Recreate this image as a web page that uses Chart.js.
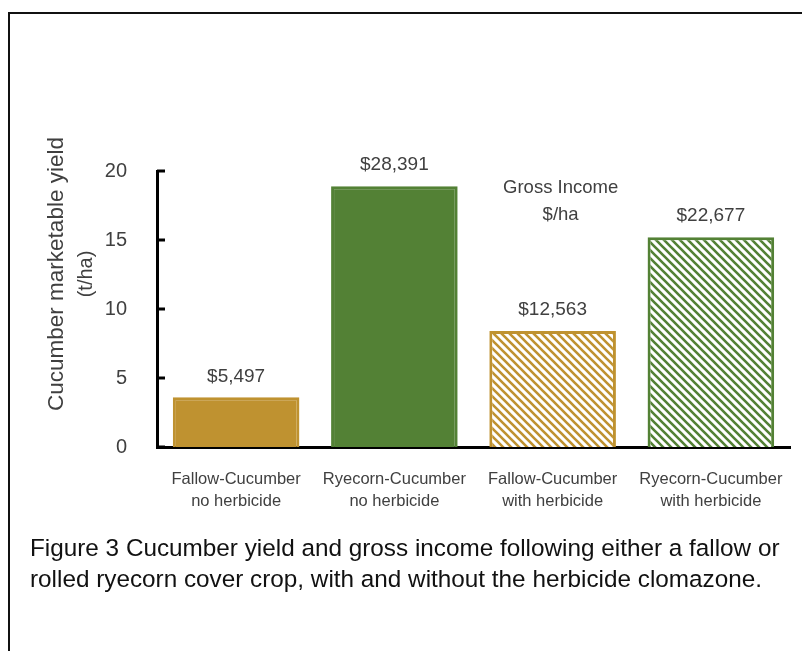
<!DOCTYPE html>
<html>
<head>
<meta charset="utf-8">
<script src="https://cdn.jsdelivr.net/npm/chart.js@4.4.1/dist/chart.umd.min.js"></script>
<style>
  html, body { margin: 0; padding: 0; background: #fff; }
  body { width: 802px; height: 651px; position: relative; overflow: hidden; }
  #frame {
    position: absolute; left: 8px; top: 12px; right: -10px; bottom: -10px;
    border-left: 2px solid #111; border-top: 2px solid #111;
  }
  #wrap { position: absolute; left: 0; top: 0; width: 802px; height: 651px; }
  #caption {
    position: absolute; left: 30px; top: 532px;
    font-family: "Liberation Sans", Arial, sans-serif; font-size: 24.3px;
    line-height: 31px; color: #111; white-space: nowrap;
  }
</style>
</head>
<body>
<div id="frame"></div>
<div id="wrap"><canvas id="chart"></canvas></div>
<div id="caption">Figure 3 Cucumber yield and gross income following either a fallow or<br>rolled ryecorn cover crop, with and without the herbicide clomazone.</div>
<script>
// Data
const categories = [
  ["Fallow-Cucumber", "no herbicide"],
  ["Ryecorn-Cucumber", "no herbicide"],
  ["Fallow-Cucumber", "with herbicide"],
  ["Ryecorn-Cucumber", "with herbicide"],
]
const yieldValues = [3.6, 18.9, 8.4, 15.2]
const incomeLabels = ["$5,497", "$28,391", "$12,563", "$22,677"]
const yTicks = [0, 5, 10, 15, 20]
const barColors = ["#BF9230", "#538135", "#BF9230", "#538135"]
const hatched = [false, false, true, true]

const FONT = "'Liberation Sans', Arial, sans-serif"
const TEXT = "#404040"

// diagonal hatch pattern
function makeHatch(color) {
  const c = document.createElement("canvas")
  c.width = 8
  c.height = 8
  const g = c.getContext("2d")
  g.fillStyle = "#fff"
  g.fillRect(0, 0, 8, 8)
  g.strokeStyle = color
  g.lineWidth = 2.6
  g.beginPath()
  g.moveTo(-1, -1); g.lineTo(9, 9)
  g.moveTo(7, -1); g.lineTo(9, 1)
  g.moveTo(-1, 7); g.lineTo(1, 9)
  g.stroke()
  return g.createPattern(c, "repeat")
}

const fills = barColors.map((col, i) => (hatched[i] ? makeHatch(col) : col))

const extrasPlugin = {
  id: "extras",
  afterDatasetsDraw(chart) {
    const ctx = chart.ctx
    const xs = chart.scales.x
    const ys = chart.scales.y
    const area = chart.chartArea
    ctx.save()

    // tick marks on the inside of the y axis
    ctx.strokeStyle = "#000"
    ctx.lineWidth = 3
    yTicks.forEach((v) => {
      const y = ys.getPixelForValue(v)
      ctx.beginPath()
      ctx.moveTo(area.left, y)
      ctx.lineTo(area.left + 8, y)
      ctx.stroke()
    })

    // income labels above the bars
    ctx.fillStyle = TEXT
    ctx.font = "19px " + FONT
    ctx.textAlign = "center"
    ctx.textBaseline = "middle"
    const meta = chart.getDatasetMeta(0)
    meta.data.forEach((bar, i) => {
      ctx.fillText(incomeLabels[i], bar.x, bar.y - 21)
    })

    // "Gross Income $/ha" note
    ctx.font = "18.5px " + FONT
    const nx = xs.getPixelForValue(2) + 8
    ctx.fillText("Gross Income", nx, ys.getPixelForValue(18.8))
    ctx.fillText("$/ha", nx, ys.getPixelForValue(16.85))

    // y axis title
    ctx.translate(57, 274)
    ctx.rotate(-Math.PI / 2)
    ctx.font = "22.5px " + FONT
    ctx.fillText("Cucumber marketable yield", 0, 0)
    ctx.font = "20px " + FONT
    ctx.fillText("(t/ha)", 0, 29)
    ctx.restore()
  },
}

const ctx = document.getElementById("chart").getContext("2d")
const chart = new Chart(ctx, {
  type: "bar",
  data: {
    labels: categories,
    datasets: [
      {
        data: yieldValues,
        backgroundColor: fills,
        borderColor: barColors,
        borderWidth: 3,
        borderSkipped: "bottom",
        categoryPercentage: 0.8,
        barPercentage: 1.0,
      },
    ],
  },
  options: {
    responsive: true,
    maintainAspectRatio: false,
    animation: false,
    devicePixelRatio: 1,
    layout: {
      padding: { left: 0, top: 171, right: 12, bottom: 0 },
    },
    plugins: {
      legend: { display: false },
      tooltip: { enabled: false },
    },
    scales: {
      x: {
        grid: { display: false },
        border: { color: "#000", width: 3 },
        ticks: {
          color: TEXT,
          font: { family: FONT, size: 16.5, lineHeight: 1.3 },
          padding: 14,
          maxRotation: 0,
          autoSkip: false,
        },
        afterFit: (s) => { s.height = 204 },
      },
      y: {
        min: 0,
        max: 20,
        grid: { display: false },
        border: { color: "#000", width: 3 },
        ticks: {
          stepSize: 5,
          color: TEXT,
          font: { family: FONT, size: 20 },
          padding: 22,
        },
        afterFit: (s) => { s.width = 157 },
      },
    },
  },
  plugins: [extrasPlugin],
})
</script>
</body>
</html>
